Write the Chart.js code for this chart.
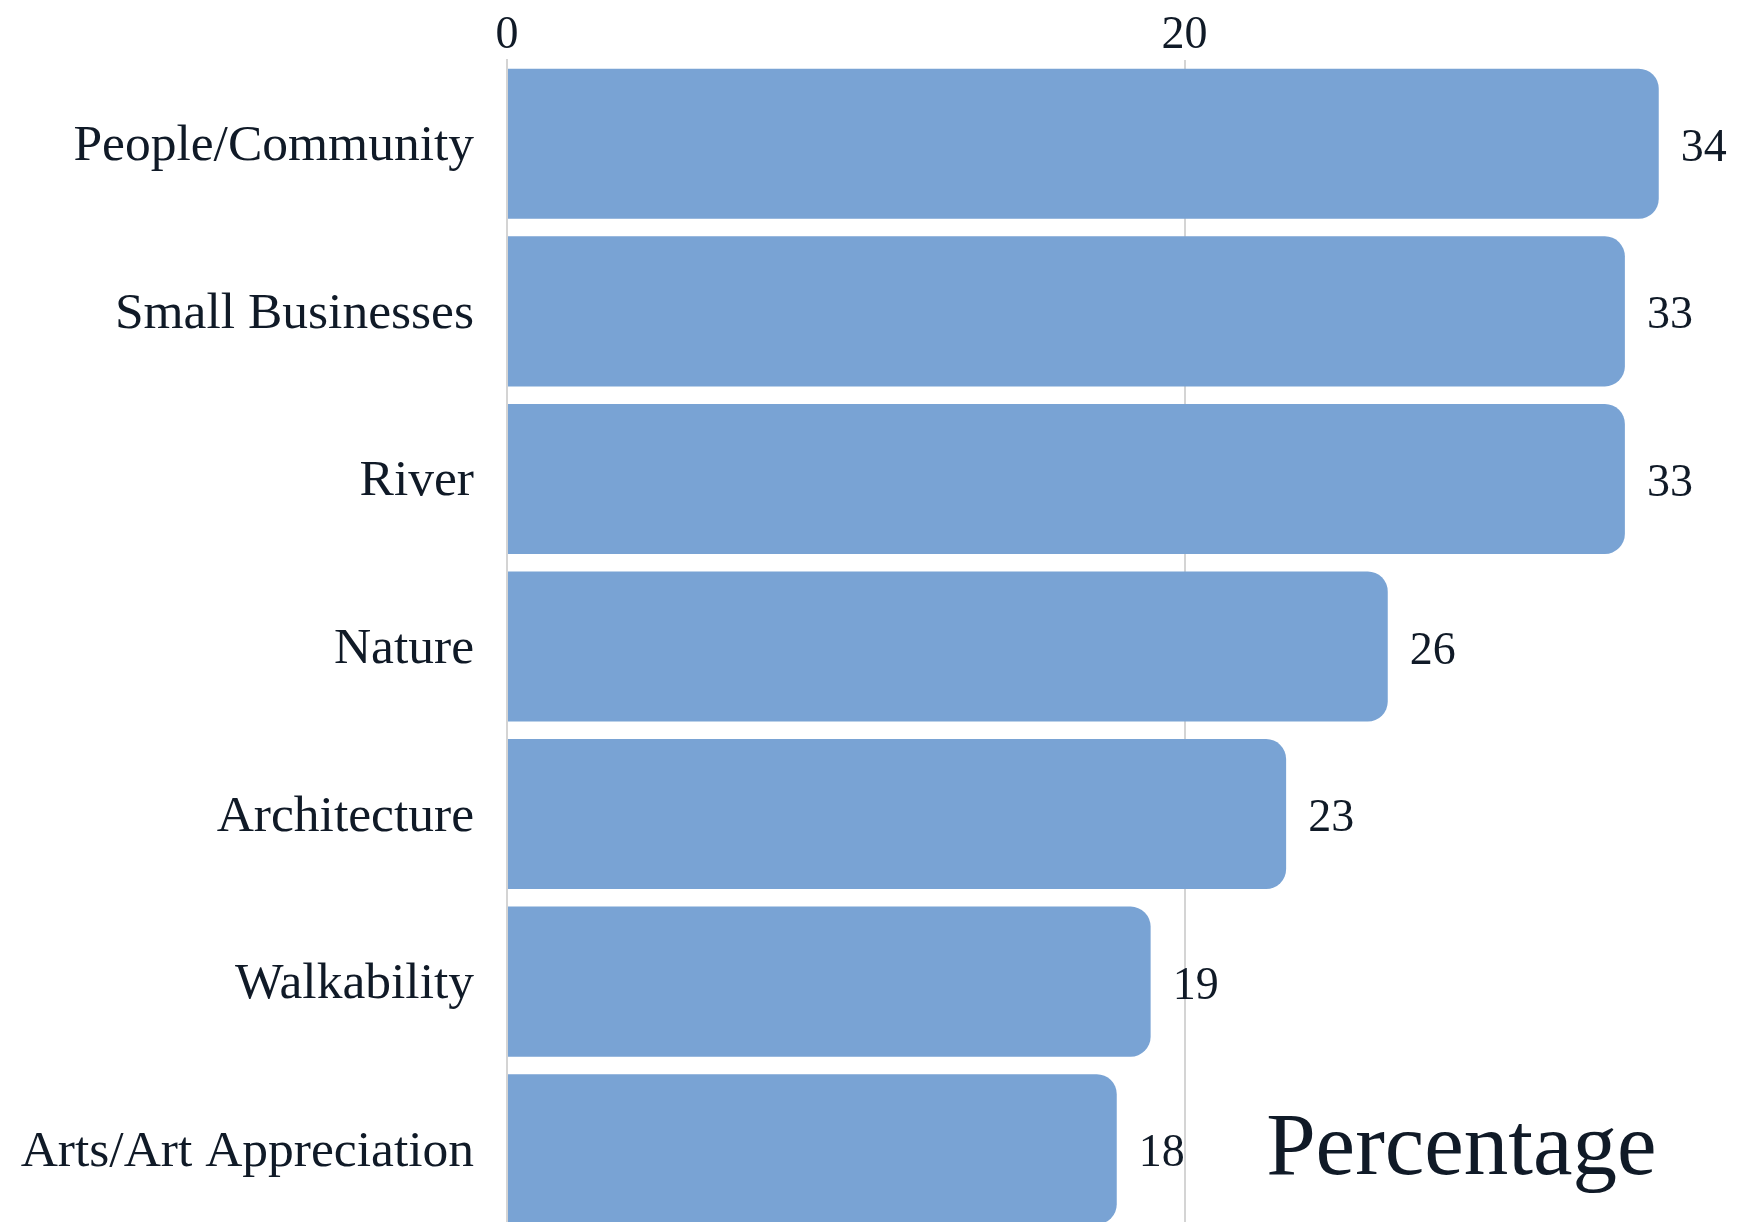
<!DOCTYPE html>
<html>
<head>
<meta charset="utf-8">
<script src="https://cdn.jsdelivr.net/npm/chart.js@4"></script>
<style>
  html, body { margin: 0; padding: 0; background: #ffffff; overflow: hidden; }
  canvas { display: block; }
</style>
</head>
<body>
<canvas id="c" width="1737" height="1233" style="width:1737px;height:1233px;"></canvas>
<script>
const categories = ["People/Community", "Small Businesses", "River", "Nature", "Architecture", "Walkability", "Arts/Art Appreciation"];
const percentages = [34, 33, 33, 26, 23, 19, 18];
const tickValues = [0, 20];
const axisTitle = "Percentage";

const TEXT = "#101a27";
const FONT = "'Liberation Serif', 'Times New Roman', serif";

const valueLabels = {
  id: "valueLabels",
  afterDatasetsDraw(chart) {
    const ctx = chart.ctx;
    const meta = chart.getDatasetMeta(0);
    ctx.save();
    ctx.font = "46px " + FONT;
    ctx.fillStyle = TEXT;
    ctx.textAlign = "left";
    ctx.textBaseline = "middle";
    meta.data.forEach((bar, i) => {
      ctx.fillText(String(percentages[i]), bar.x + 22, bar.y + 5);
    });
    ctx.restore();
  }
};

const axisTitlePlugin = {
  id: "axisTitlePlugin",
  afterDraw(chart) {
    const ctx = chart.ctx;
    const a = chart.chartArea;
    ctx.save();
    ctx.font = "89px " + FONT;
    ctx.fillStyle = TEXT;
    ctx.textAlign = "right";
    ctx.textBaseline = "alphabetic";
    ctx.fillText(axisTitle, a.right - 70, a.bottom - 59);
    ctx.restore();
  }
};

new Chart(document.getElementById("c"), {
  type: "bar",
  data: {
    labels: categories,
    datasets: [{
      data: percentages,
      backgroundColor: "#79a3d4",
      borderWidth: 0,
      borderRadius: 20,
      borderSkipped: "start",
      categoryPercentage: 1.0,
      barPercentage: 0.8955
    }]
  },
  options: {
    indexAxis: "y",
    responsive: false,
    maintainAspectRatio: false,
    animation: false,
    devicePixelRatio: 1,
    layout: { padding: { left: 0, right: 10.5, top: 0, bottom: 0 } },
    plugins: {
      legend: { display: false },
      tooltip: { enabled: false },
      title: { display: false }
    },
    scales: {
      x: {
        position: "top",
        min: 0,
        max: 36,
        afterFit(scale) {
          scale.height = 60;
          scale.paddingLeft = 0;
          scale.paddingRight = 0;
        },
        afterBuildTicks(scale) {
          scale.ticks = tickValues.map(v => ({ value: v }));
        },
        ticks: {
          color: TEXT,
          font: { family: FONT, size: 46 },
          padding: -4,
          maxRotation: 0
        },
        grid: { color: "#d4d4d4", lineWidth: 2, drawTicks: false, drawOnChartArea: true },
        border: { display: false }
      },
      y: {
        afterFit(scale) {
          scale.width = 507;
          scale.paddingTop = 0;
          scale.paddingBottom = 0;
        },
        ticks: {
          color: TEXT,
          font: { family: FONT, size: 51.5 },
          padding: 33,
          labelOffset: 3
        },
        grid: { display: false, drawTicks: false },
        border: { display: true, color: "#d4d4d4", width: 2 }
      }
    }
  },
  plugins: [valueLabels, axisTitlePlugin]
});
</script>
</body>
</html>
